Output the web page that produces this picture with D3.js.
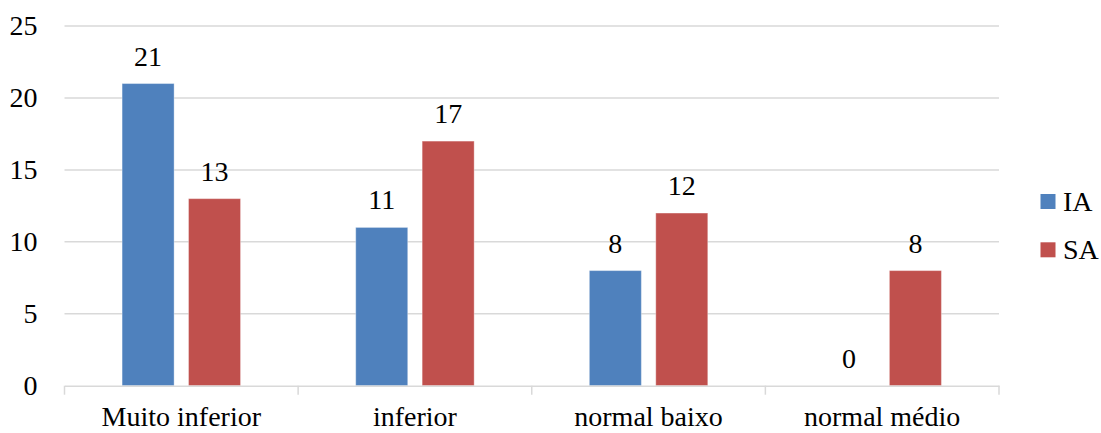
<!DOCTYPE html>
<html>
<head>
<meta charset="utf-8">
<script src="https://cdn.jsdelivr.net/npm/d3@7"></script>
<style>
  html, body { margin: 0; padding: 0; background: #fff; }
  svg { display: block; }
</style>
</head>
<body>
<svg id="chart" width="1101" height="433"></svg>
<script>
// Categories and series
const categories = ["Muito inferior", "inferior", "normal baixo", "normal médio"];
const seriesNames = ["IA", "SA"];
const valuesIA = [21, 11, 8, 0];
const valuesSA = [13, 17, 12, 8];
const yTicks = [0, 5, 10, 15, 20, 25];
const colors = ["#4F81BD", "#C0504D"];

const seriesValues = [valuesIA, valuesSA];
const rows = categories.map((c, i) => ({
  category: c,
  values: seriesNames.map((s, j) => ({ series: s, value: seriesValues[j][i], color: colors[j] }))
}));

const svg = d3.select("#chart");
const plot = { left: 64.5, right: 999, top: 26, bottom: 385.7 };
const fontSize = 28;
const serif = "'Liberation Serif', 'Times New Roman', 'DejaVu Serif', serif";

const x0 = d3.scaleBand().domain(categories).range([plot.left, plot.right]).padding(0);
const x1 = d3.scaleBand().domain(seriesNames).range([0, x0.bandwidth()])
  .paddingInner(0.217).paddingOuter(0.867);
const y = d3.scaleLinear().domain([0, 25]).range([plot.bottom, plot.top]);

// Horizontal gridlines
svg.append("g")
  .selectAll("line")
  .data(yTicks.filter(t => t > 0))
  .join("line")
  .attr("x1", plot.left).attr("x2", plot.right)
  .attr("y1", d => y(d)).attr("y2", d => y(d))
  .attr("stroke", "#D9D9D9").attr("stroke-width", 1.5);

// Y axis labels
const yAxis = d3.axisLeft(y).tickValues(yTicks).tickSize(0).tickPadding(27);
const yg = svg.append("g").attr("transform", `translate(${plot.left},0)`).call(yAxis);
yg.select(".domain").remove();
yg.selectAll("text")
  .style("font-family", serif).style("font-size", fontSize + "px").attr("fill", "#000");

// Bars
const groups = svg.append("g")
  .selectAll("g")
  .data(rows)
  .join("g")
  .attr("transform", d => `translate(${x0(d.category)},0)`);

groups.selectAll("rect")
  .data(d => d.values.filter(v => v.value > 0))
  .join("rect")
  .attr("x", d => x1(d.series))
  .attr("width", x1.bandwidth())
  .attr("y", d => y(d.value))
  .attr("height", d => y(0) - y(d.value))
  .attr("fill", d => d.color)
  .attr("stroke", "rgba(255,255,255,0.35)")
  .attr("stroke-width", 1);

// Value labels
groups.selectAll("text")
  .data(d => d.values)
  .join("text")
  .attr("x", d => x1(d.series) + x1.bandwidth() / 2)
  .attr("y", d => y(d.value) - 18)
  .attr("text-anchor", "middle")
  .style("font-family", serif).style("font-size", fontSize + "px")
  .text(d => d.value);

// X axis: baseline with category boundary ticks
const xAxis = d3.axisBottom(x0).tickSize(0).tickPadding(0);
const xg = svg.append("g").attr("transform", `translate(0,${plot.bottom})`).call(xAxis);
xg.select(".domain").attr("stroke", "#D9D9D9").attr("stroke-width", 1.5);
xg.selectAll(".tick text").remove();
const boundaries = categories.map(c => x0(c)).concat([plot.right]);
xg.selectAll("line.bound")
  .data(boundaries)
  .join("line")
  .attr("class", "bound")
  .attr("x1", d => d).attr("x2", d => d)
  .attr("y1", 0).attr("y2", 9)
  .attr("stroke", "#D9D9D9").attr("stroke-width", 1.5);
xg.selectAll("text.cat")
  .data(categories)
  .join("text")
  .attr("class", "cat")
  .attr("x", d => x0(d) + x0.bandwidth() / 2)
  .attr("y", 40.5)
  .attr("text-anchor", "middle")
  .attr("fill", "#000")
  .style("font-family", serif).style("font-size", fontSize + "px")
  .text(d => d);

// Legend
const legend = svg.append("g")
  .selectAll("g")
  .data(seriesNames)
  .join("g")
  .attr("transform", (d, i) => `translate(1040.5,${194 + i * 48.3})`);
legend.append("rect")
  .attr("width", 15).attr("height", 15)
  .attr("fill", (d, i) => colors[i]);
legend.append("text")
  .attr("x", 22.5).attr("y", 16.5)
  .style("font-family", serif).style("font-size", fontSize + "px")
  .text(d => d);
</script>
</body>
</html>
